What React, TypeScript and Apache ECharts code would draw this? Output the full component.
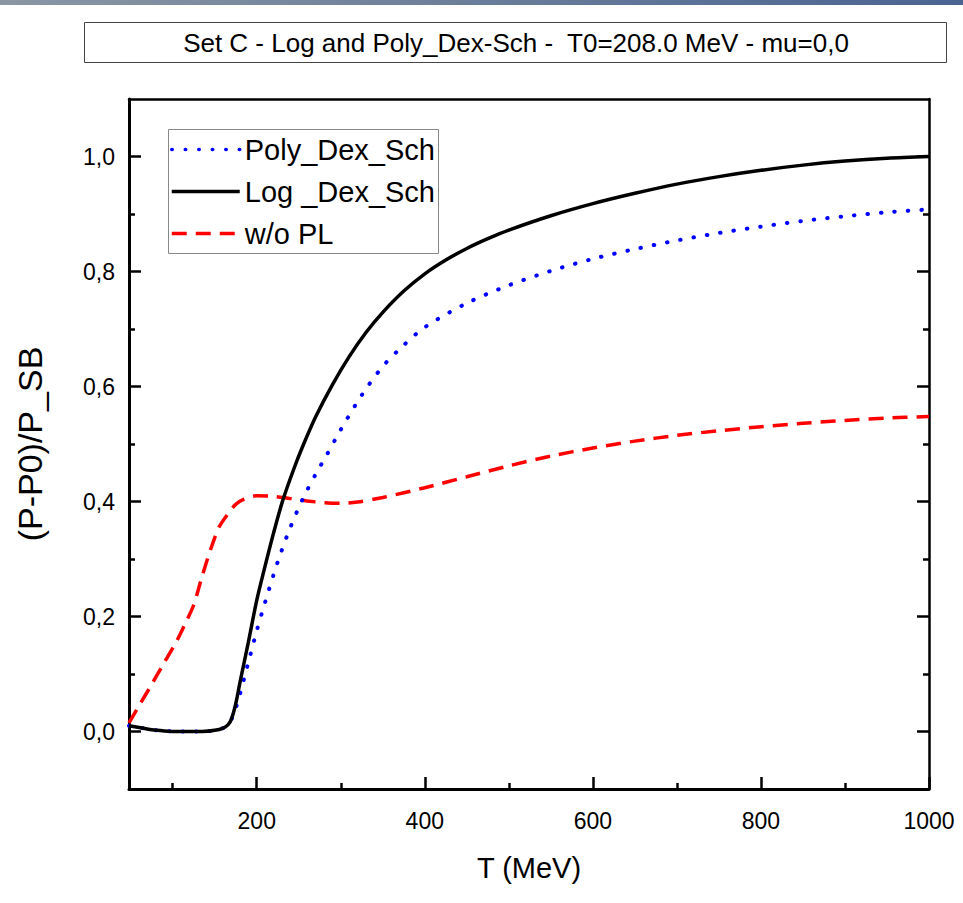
import React, { useEffect, useRef } from "react";
import * as echarts from "echarts";

const FONT = "'Liberation Sans', Arial, sans-serif";

const titleText = "Set C - Log and Poly_Dex-Sch -  T0=208.0 MeV - mu=0,0";
const seriesNames = ["Poly_Dex_Sch", "Log _Dex_Sch", "w/o PL"];

const xMajor = [200, 400, 600, 800, 1000];
const xMinor = [100, 300, 500, 700, 900];
const yMajor = [0, 0.2, 0.4, 0.6, 0.8, 1.0];
const yMinor = [0.1, 0.3, 0.5, 0.7, 0.9];

const logT = [48, 60, 75, 90, 105, 120, 135, 150, 160, 166, 170, 175, 180, 190, 200, 210, 220, 231, 245, 255, 270, 290, 310, 330, 350, 375, 400, 425, 450, 475, 500, 550, 600, 650, 700, 750, 800, 850, 900, 950, 1000];
const logV = [0.010, 0.007, 0.003, 0.001, 0.0, 0.0, 0.0, 0.002, 0.006, 0.012, 0.022, 0.048, 0.085, 0.155, 0.228, 0.288, 0.345, 0.402, 0.46, 0.497, 0.547, 0.603, 0.652, 0.694, 0.729, 0.766, 0.796, 0.82, 0.84, 0.857, 0.872, 0.897, 0.918, 0.936, 0.952, 0.965, 0.976, 0.985, 0.992, 0.997, 1.0];

const polyT = [48, 60, 75, 90, 105, 120, 135, 150, 160, 166, 172, 180, 190, 200, 210, 225, 240, 255, 270, 283, 300, 325, 350, 375, 400, 450, 500, 550, 600, 650, 700, 750, 800, 850, 900, 950, 1000];
const polyV = [0.010, 0.007, 0.003, 0.001, 0.0, 0.0, 0.0, 0.002, 0.006, 0.012, 0.028, 0.065, 0.12, 0.175, 0.225, 0.295, 0.355, 0.405, 0.447, 0.48, 0.525, 0.585, 0.635, 0.672, 0.703, 0.745, 0.776, 0.801, 0.822, 0.839, 0.854, 0.867, 0.878, 0.888, 0.896, 0.903, 0.908];

const plT = [48, 60, 75, 90, 105, 115, 125, 135, 145, 155, 165, 175, 185, 200, 220, 240, 260, 280, 300, 320, 350, 400, 450, 500, 550, 600, 650, 700, 750, 800, 850, 900, 950, 1000];
const plV = [0.015, 0.045, 0.082, 0.12, 0.158, 0.188, 0.22, 0.27, 0.316, 0.355, 0.377, 0.395, 0.404, 0.41, 0.409, 0.405, 0.401, 0.398, 0.397, 0.399, 0.407, 0.424, 0.443, 0.462, 0.479, 0.493, 0.505, 0.515, 0.523, 0.53, 0.536, 0.541, 0.545, 0.548];

const X_MIN = 48;
const X_MAX = 1000;
const Y_MIN = -0.1;
const Y_MAX = 1.1;

function pairs(xs: number[], ys: number[]) {
  return xs.map((x, i) => [x, ys[i]]);
}

const fmt = (v: number) => v.toFixed(1).replace(".", ",");

export default function App() {
  const ref = useRef<HTMLDivElement>(null);
  useEffect(() => {
    if (!ref.current) return;
    const chart = echarts.init(ref.current, null, { renderer: "svg" });
    const majorTick = (vals: number[]) => ({
      show: true,
      inside: true,
      length: 12,
      customValues: vals,
      lineStyle: { color: "#000", width: 2.5 },
    });
    const minorTick = (vals: number[]) => ({
      show: true,
      inside: true,
      length: 6,
      customValues: vals,
      lineStyle: { color: "#000", width: 2.5 },
    });
    const hiddenBase = {
      splitLine: { show: false },
      axisLabel: { show: false },
    };
    chart.setOption({
      animation: false,
      backgroundColor: "#fff",
      graphic: [
        {
          type: "rect",
          shape: { x: 0, y: 0, width: 963, height: 5 },
          style: {
            fill: new echarts.graphic.LinearGradient(0, 0, 1, 0, [
              { offset: 0, color: "#8a96a3" },
              { offset: 1, color: "#4a6491" },
            ]),
          },
          silent: true,
        },
        {
          type: "rect",
          shape: { x: 84.5, y: 22.5, width: 862, height: 40 },
          style: { fill: "#fff", stroke: "#444", lineWidth: 1 },
          silent: true,
        },
        {
          type: "text",
          x: 516,
          y: 43,
          style: {
            text: titleText,
            fontSize: 26,
            fontFamily: FONT,
            fill: "#000",
            align: "center",
            verticalAlign: "middle",
          },
          silent: true,
        },
        {
          type: "rect",
          shape: { x: 168.5, y: 129.5, width: 270, height: 124 },
          style: { fill: "#fff", stroke: "#888", lineWidth: 1 },
          z: 5,
          silent: true,
        },
      ],
      grid: { left: 129, right: 34, top: 99, bottom: 114, containLabel: false },
      legend: {
        data: seriesNames,
        orient: "vertical",
        left: 170,
        top: 135,
        padding: 0,
        itemWidth: 68,
        itemHeight: 28,
        itemGap: 13,
        z: 10,
        itemStyle: { opacity: 0 },
        lineStyle: { width: 3.5 },
        textStyle: { fontSize: 29, color: "#000", fontFamily: FONT },
      },
      xAxis: [
        {
          type: "value",
          min: X_MIN,
          max: X_MAX,
          position: "bottom",
          axisLine: { show: true, onZero: false, lineStyle: { color: "#000", width: 3 } },
          axisTick: majorTick(xMajor),
          axisLabel: {
            show: true,
            customValues: xMajor,
            formatter: (v: number) => String(v),
            fontSize: 23,
            color: "#000",
            fontFamily: FONT,
            margin: 20,
          },
          splitLine: { show: false },
          name: "T (MeV)",
          nameLocation: "middle",
          nameGap: 64,
          nameTextStyle: { fontSize: 29, color: "#000", fontFamily: FONT },
        },
        {
          type: "value",
          min: X_MIN,
          max: X_MAX,
          position: "bottom",
          axisLine: { show: false, onZero: false },
          axisTick: minorTick(xMinor),
          ...hiddenBase,
        },
        {
          type: "value",
          min: X_MIN,
          max: X_MAX,
          position: "top",
          axisLine: { show: true, onZero: false, lineStyle: { color: "#000", width: 2.5 } },
          axisTick: { show: false },
          ...hiddenBase,
        },
      ],
      yAxis: [
        {
          type: "value",
          min: Y_MIN,
          max: Y_MAX,
          position: "left",
          axisLine: { show: true, onZero: false, lineStyle: { color: "#000", width: 3 } },
          axisTick: majorTick(yMajor),
          axisLabel: {
            show: true,
            customValues: yMajor,
            formatter: fmt,
            fontSize: 23,
            color: "#000",
            fontFamily: FONT,
            margin: 14,
          },
          splitLine: { show: false },
          name: "(P-P0)/P_SB",
          nameLocation: "middle",
          nameGap: 82,
          nameTextStyle: { fontSize: 34, color: "#000", fontFamily: FONT },
        },
        {
          type: "value",
          min: Y_MIN,
          max: Y_MAX,
          position: "left",
          axisLine: { show: false, onZero: false },
          axisTick: minorTick(yMinor),
          ...hiddenBase,
        },
        {
          type: "value",
          min: Y_MIN,
          max: Y_MAX,
          position: "right",
          axisLine: { show: true, onZero: false, lineStyle: { color: "#000", width: 2.5 } },
          axisTick: majorTick(yMajor),
          ...hiddenBase,
        },
        {
          type: "value",
          min: Y_MIN,
          max: Y_MAX,
          position: "right",
          axisLine: { show: false, onZero: false },
          axisTick: minorTick(yMinor),
          ...hiddenBase,
        },
      ],
      series: [
        {
          name: seriesNames[2],
          type: "line",
          xAxisIndex: 0,
          yAxisIndex: 0,
          data: pairs(plT, plV),
          showSymbol: false,
          symbol: "none",
          smooth: 0.3,
          lineStyle: { color: "#ff0000", width: 3.5, type: [15, 9] },
          itemStyle: { color: "#ff0000" },
          z: 3,
        },
        {
          name: seriesNames[0],
          type: "line",
          xAxisIndex: 0,
          yAxisIndex: 0,
          data: pairs(polyT, polyV),
          showSymbol: false,
          symbol: "none",
          smooth: 0.3,
          lineStyle: { color: "#0000ff", width: 4, type: [0.5, 13], cap: "round" },
          itemStyle: { color: "#0000ff" },
          z: 3,
        },
        {
          name: seriesNames[1],
          type: "line",
          xAxisIndex: 0,
          yAxisIndex: 0,
          data: pairs(logT, logV),
          showSymbol: false,
          symbol: "none",
          smooth: 0.3,
          lineStyle: { color: "#000", width: 3.5 },
          itemStyle: { color: "#000" },
          z: 4,
        },
      ],
    });
    return () => chart.dispose();
  }, []);
  return (
    <div
      ref={ref}
      style={{ position: "fixed", left: 0, top: 0, width: 963, height: 903, background: "#fff" }}
    />
  );
}
